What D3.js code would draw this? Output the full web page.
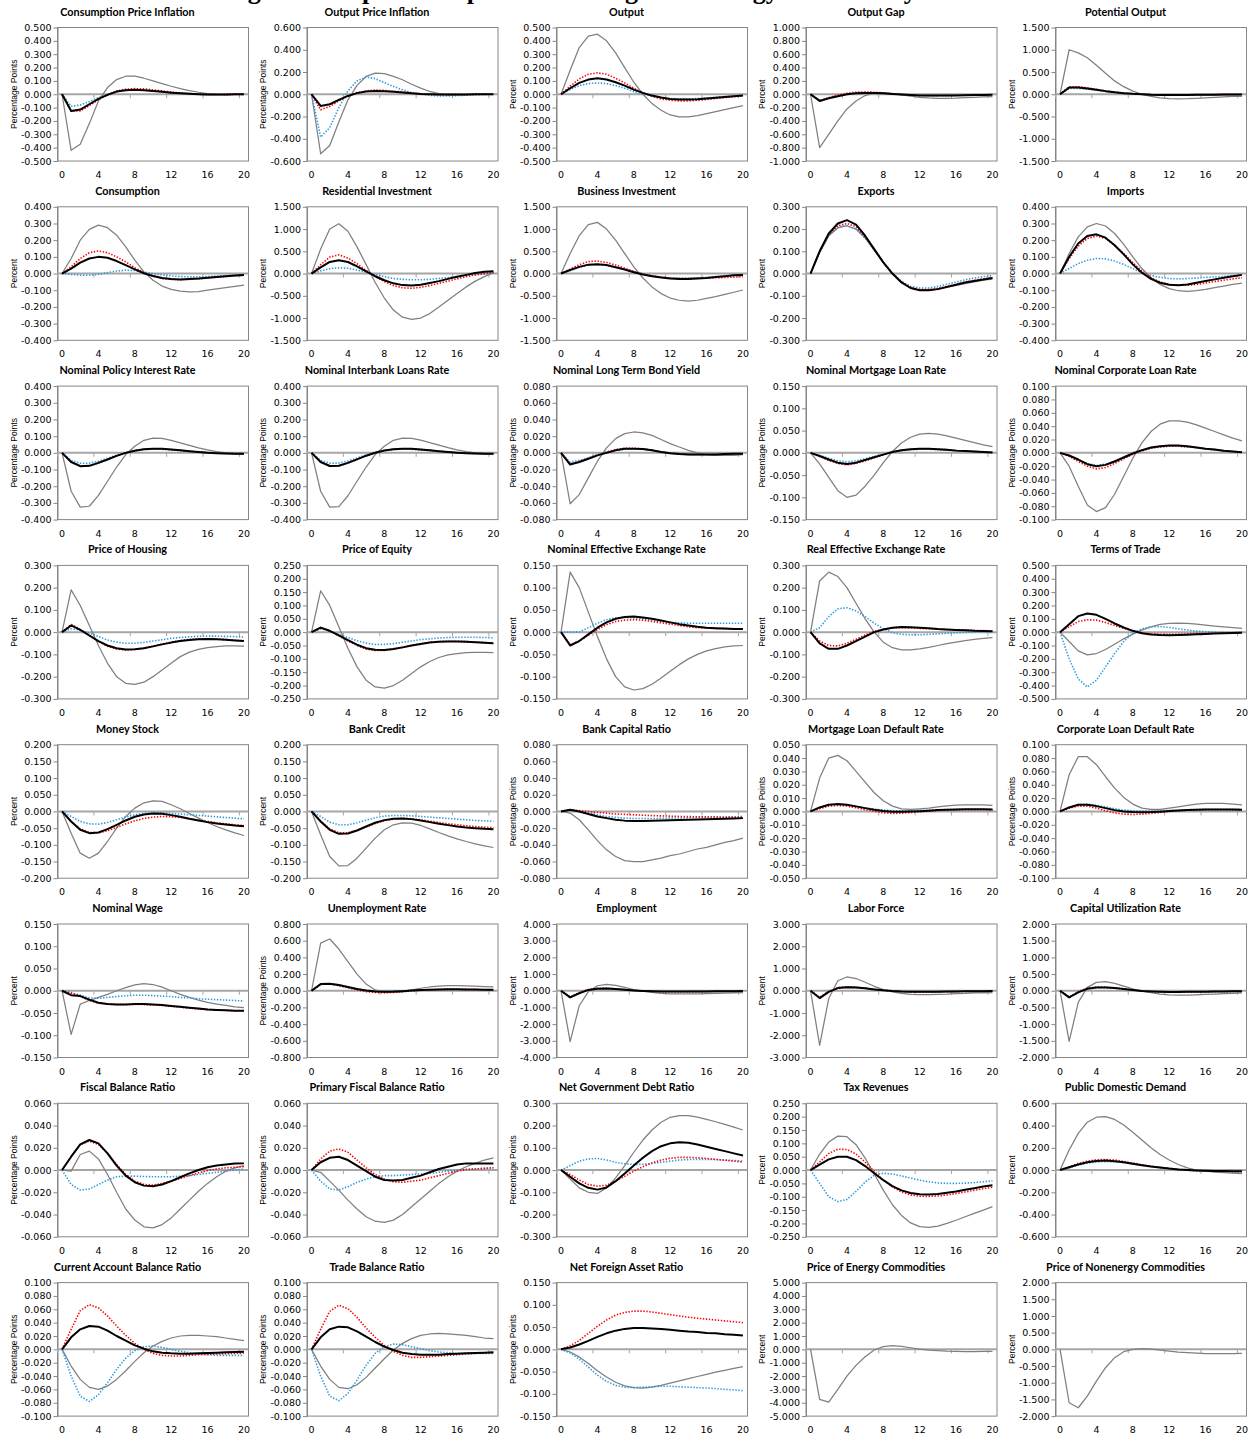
<!DOCTYPE html>
<html>
<head>
<meta charset="utf-8">
<script src="https://cdn.jsdelivr.net/npm/d3@7"></script>
<style>
  body { margin: 0; background: #fff; }
</style>
</head>
<body>
<div id="chart"></div>
<script>
// quarters after the shock
var periods = d3.range(0, 21);
var xTickValues = [0, 4, 8, 12, 16, 20];

var panelTitles = [
  'Consumption Price Inflation', 'Output Price Inflation', 'Output', 'Output Gap', 'Potential Output',
  'Consumption', 'Residential Investment', 'Business Investment', 'Exports', 'Imports',
  'Nominal Policy Interest Rate', 'Nominal Interbank Loans Rate', 'Nominal Long Term Bond Yield', 'Nominal Mortgage Loan Rate', 'Nominal Corporate Loan Rate',
  'Price of Housing', 'Price of Equity', 'Nominal Effective Exchange Rate', 'Real Effective Exchange Rate', 'Terms of Trade',
  'Money Stock', 'Bank Credit', 'Bank Capital Ratio', 'Mortgage Loan Default Rate', 'Corporate Loan Default Rate',
  'Nominal Wage', 'Unemployment Rate', 'Employment', 'Labor Force', 'Capital Utilization Rate',
  'Fiscal Balance Ratio', 'Primary Fiscal Balance Ratio', 'Net Government Debt Ratio', 'Tax Revenues', 'Public Domestic Demand',
  'Current Account Balance Ratio', 'Trade Balance Ratio', 'Net Foreign Asset Ratio', 'Price of Energy Commodities', 'Price of Nonenergy Commodities'
];

var panelUnits = [
  'Percentage Points', 'Percentage Points', 'Percent', 'Percent', 'Percent',
  'Percent', 'Percent', 'Percent', 'Percent', 'Percent',
  'Percentage Points', 'Percentage Points', 'Percentage Points', 'Percentage Points', 'Percentage Points',
  'Percent', 'Percent', 'Percent', 'Percent', 'Percent',
  'Percent', 'Percent', 'Percentage Points', 'Percentage Points', 'Percentage Points',
  'Percent', 'Percentage Points', 'Percent', 'Percent', 'Percent',
  'Percentage Points', 'Percentage Points', 'Percentage Points', 'Percent', 'Percent',
  'Percentage Points', 'Percentage Points', 'Percentage Points', 'Percent', 'Percent'
];

// symmetric y range and tick step of each panel
var axisMax = [
  0.5, 0.6, 0.5, 1.0, 1.5,
  0.4, 1.5, 1.5, 0.3, 0.4,
  0.4, 0.4, 0.08, 0.15, 0.1,
  0.3, 0.25, 0.15, 0.3, 0.5,
  0.2, 0.2, 0.08, 0.05, 0.1,
  0.15, 0.8, 4, 3, 2,
  0.06, 0.06, 0.3, 0.25, 0.6,
  0.1, 0.1, 0.15, 5, 2
];
var axisStep = [
  0.1, 0.2, 0.1, 0.2, 0.5,
  0.1, 0.5, 0.5, 0.1, 0.1,
  0.1, 0.1, 0.02, 0.05, 0.02,
  0.1, 0.05, 0.05, 0.1, 0.1,
  0.05, 0.05, 0.02, 0.01, 0.02,
  0.05, 0.2, 1, 1, 0.5,
  0.02, 0.02, 0.1, 0.05, 0.2,
  0.02, 0.02, 0.05, 1, 0.5
];

// black solid line
var blackSeries = [
  [0,-0.125,-0.115,-0.075,-0.035,-0.005,0.02,0.03,0.033,0.03,0.025,0.018,0.012,0.007,0.003,0,-0.002,-0.002,-0.001,0,0],
  [0,-0.105,-0.09,-0.05,-0.015,0.01,0.025,0.03,0.028,0.022,0.015,0.008,0.003,0,-0.002,-0.003,-0.003,-0.002,-0.001,0,0],
  [0,0.045,0.085,0.11,0.12,0.11,0.09,0.065,0.035,0.01,-0.01,-0.025,-0.035,-0.04,-0.04,-0.037,-0.032,-0.026,-0.02,-0.015,-0.01],
  [0,-0.1,-0.06,-0.03,0,0.015,0.02,0.02,0.015,0.005,-0.005,-0.012,-0.018,-0.02,-0.02,-0.02,-0.018,-0.015,-0.012,-0.01,-0.008],
  [0,0.15,0.15,0.13,0.1,0.07,0.045,0.025,0.01,0,-0.01,-0.015,-0.018,-0.018,-0.016,-0.014,-0.012,-0.01,-0.008,-0.006,-0.005],
  [0,0.03,0.065,0.09,0.1,0.095,0.075,0.05,0.025,0.002,-0.015,-0.027,-0.033,-0.035,-0.033,-0.03,-0.025,-0.02,-0.016,-0.012,-0.009],
  [0,0.14,0.26,0.3,0.26,0.16,0.05,-0.06,-0.15,-0.22,-0.26,-0.27,-0.25,-0.21,-0.17,-0.12,-0.07,-0.03,0.01,0.04,0.05],
  [0,0.08,0.15,0.2,0.21,0.19,0.14,0.09,0.03,-0.02,-0.06,-0.09,-0.11,-0.12,-0.12,-0.11,-0.1,-0.08,-0.06,-0.04,-0.03],
  [0,0.1,0.18,0.225,0.24,0.22,0.17,0.11,0.05,0,-0.04,-0.065,-0.075,-0.075,-0.07,-0.06,-0.05,-0.04,-0.033,-0.027,-0.02],
  [0,0.1,0.18,0.225,0.235,0.215,0.17,0.115,0.055,0.005,-0.032,-0.055,-0.067,-0.07,-0.065,-0.055,-0.045,-0.035,-0.025,-0.016,-0.008],
  [0,-0.055,-0.08,-0.078,-0.06,-0.04,-0.018,0,0.013,0.022,0.025,0.024,0.02,0.015,0.01,0.005,0.001,-0.002,-0.004,-0.005,-0.005],
  [0,-0.055,-0.079,-0.077,-0.06,-0.039,-0.017,0.001,0.014,0.022,0.025,0.024,0.02,0.015,0.01,0.005,0.001,-0.002,-0.004,-0.005,-0.005],
  [0,-0.014,-0.011,-0.007,-0.003,0,0.003,0.005,0.005,0.0045,0.003,0.001,-0.0005,-0.0015,-0.002,-0.002,-0.002,-0.002,-0.0015,-0.0012,-0.001],
  [0,-0.007,-0.015,-0.022,-0.025,-0.022,-0.016,-0.01,-0.004,0.002,0.006,0.008,0.009,0.009,0.008,0.007,0.005,0.004,0.003,0.002,0.001],
  [0,-0.004,-0.01,-0.017,-0.02,-0.018,-0.013,-0.007,-0.001,0.004,0.008,0.01,0.011,0.011,0.01,0.008,0.006,0.005,0.003,0.002,0.001],
  [0,0.03,0.01,-0.015,-0.04,-0.06,-0.072,-0.078,-0.077,-0.072,-0.064,-0.055,-0.047,-0.04,-0.035,-0.032,-0.031,-0.032,-0.034,-0.037,-0.04],
  [0,0.017,0.005,-0.012,-0.03,-0.047,-0.06,-0.066,-0.067,-0.063,-0.057,-0.05,-0.044,-0.039,-0.036,-0.035,-0.035,-0.036,-0.038,-0.04,-0.042],
  [0,-0.03,-0.02,-0.005,0.01,0.022,0.03,0.034,0.035,0.033,0.03,0.026,0.022,0.018,0.015,0.012,0.01,0.009,0.008,0.007,0.007],
  [0,-0.05,-0.075,-0.075,-0.06,-0.04,-0.02,0,0.012,0.02,0.023,0.022,0.02,0.017,0.014,0.012,0.01,0.008,0.006,0.005,0.004],
  [0,0.06,0.12,0.14,0.13,0.1,0.065,0.035,0.01,-0.008,-0.018,-0.022,-0.023,-0.021,-0.019,-0.016,-0.013,-0.01,-0.008,-0.006,-0.004],
  [0,-0.03,-0.055,-0.065,-0.063,-0.053,-0.04,-0.027,-0.016,-0.009,-0.006,-0.007,-0.011,-0.016,-0.022,-0.027,-0.032,-0.036,-0.039,-0.042,-0.044],
  [0,-0.03,-0.055,-0.067,-0.066,-0.057,-0.045,-0.034,-0.026,-0.022,-0.021,-0.023,-0.027,-0.032,-0.037,-0.041,-0.045,-0.048,-0.05,-0.052,-0.053],
  [0,0.002,0,-0.003,-0.006,-0.008,-0.01,-0.011,-0.0115,-0.0115,-0.011,-0.0108,-0.0105,-0.0102,-0.01,-0.0097,-0.0094,-0.009,-0.0087,-0.0084,-0.008],
  [0,0.003,0.005,0.0055,0.005,0.0038,0.0025,0.0012,0.0003,-0.0002,-0.0003,-0.0001,0.0002,0.0006,0.001,0.0013,0.0015,0.0016,0.0016,0.0016,0.0015],
  [0,0.006,0.01,0.01,0.008,0.005,0.002,0,-0.001,-0.0012,-0.001,-0.0003,0.0005,0.0013,0.002,0.0025,0.003,0.003,0.003,0.0028,0.0026],
  [0,-0.01,-0.012,-0.02,-0.027,-0.03,-0.031,-0.031,-0.03,-0.03,-0.031,-0.032,-0.034,-0.036,-0.038,-0.04,-0.042,-0.043,-0.044,-0.045,-0.045],
  [0,0.08,0.085,0.07,0.045,0.02,0.003,-0.008,-0.012,-0.01,-0.005,0.002,0.008,0.012,0.015,0.017,0.017,0.016,0.015,0.013,0.012],
  [0,-0.4,-0.15,0.05,0.12,0.13,0.1,0.06,0.02,-0.01,-0.03,-0.045,-0.05,-0.05,-0.05,-0.045,-0.04,-0.035,-0.03,-0.025,-0.02],
  [0,-0.33,-0.05,0.12,0.16,0.15,0.11,0.06,0.02,-0.01,-0.03,-0.04,-0.045,-0.045,-0.04,-0.035,-0.03,-0.025,-0.02,-0.018,-0.015],
  [0,-0.2,-0.05,0.06,0.1,0.1,0.08,0.05,0.02,-0.005,-0.02,-0.03,-0.035,-0.035,-0.033,-0.03,-0.027,-0.023,-0.02,-0.017,-0.014],
  [0,0.012,0.023,0.027,0.024,0.015,0.004,-0.005,-0.011,-0.014,-0.0145,-0.013,-0.01,-0.0065,-0.003,0,0.0025,0.004,0.005,0.0058,0.006],
  [0,0.007,0.011,0.012,0.009,0.004,-0.001,-0.006,-0.009,-0.0095,-0.009,-0.007,-0.005,-0.002,0.001,0.003,0.005,0.006,0.006,0.006,0.006],
  [0,-0.03,-0.06,-0.08,-0.088,-0.078,-0.05,-0.015,0.02,0.055,0.085,0.107,0.12,0.125,0.123,0.115,0.105,0.095,0.085,0.075,0.065],
  [0,0.02,0.04,0.05,0.05,0.037,0.015,-0.012,-0.038,-0.06,-0.076,-0.086,-0.091,-0.092,-0.09,-0.085,-0.08,-0.074,-0.068,-0.062,-0.057],
  [0,0.025,0.05,0.07,0.082,0.085,0.08,0.07,0.057,0.044,0.032,0.022,0.013,0.006,0.001,-0.003,-0.006,-0.008,-0.009,-0.01,-0.01],
  [0,0.018,0.03,0.035,0.034,0.028,0.02,0.013,0.006,0.001,-0.003,-0.005,-0.006,-0.0065,-0.0065,-0.006,-0.0055,-0.005,-0.0045,-0.004,-0.0035],
  [0,0.018,0.03,0.034,0.033,0.027,0.019,0.011,0.004,-0.001,-0.005,-0.007,-0.008,-0.008,-0.008,-0.007,-0.0065,-0.006,-0.0055,-0.005,-0.0045],
  [0,0.004,0.011,0.019,0.028,0.036,0.042,0.046,0.048,0.048,0.047,0.046,0.044,0.042,0.04,0.039,0.037,0.036,0.034,0.033,0.031],
  null,
  null
];

// red dotted line
var redSeries = [
  [0,-0.125,-0.125,-0.085,-0.04,-0.005,0.025,0.038,0.042,0.04,0.033,0.025,0.017,0.01,0.005,0,-0.003,-0.004,-0.003,-0.002,-0.001],
  [0,-0.14,-0.11,-0.06,-0.015,0.015,0.03,0.038,0.035,0.028,0.02,0.012,0.005,0,-0.002,-0.003,-0.003,-0.002,-0.001,0,0],
  [0,0.06,0.115,0.15,0.16,0.15,0.12,0.085,0.045,0.01,-0.015,-0.035,-0.045,-0.05,-0.05,-0.045,-0.04,-0.032,-0.025,-0.018,-0.012],
  [0,-0.1,-0.05,-0.01,0.015,0.03,0.035,0.03,0.022,0.01,-0.002,-0.012,-0.018,-0.02,-0.02,-0.018,-0.016,-0.013,-0.01,-0.008,-0.006],
  [0,0.17,0.17,0.145,0.11,0.077,0.05,0.028,0.012,0,-0.01,-0.016,-0.019,-0.019,-0.017,-0.015,-0.013,-0.011,-0.009,-0.007,-0.005],
  [0,0.04,0.09,0.125,0.135,0.125,0.1,0.07,0.035,0.005,-0.015,-0.03,-0.035,-0.037,-0.035,-0.032,-0.027,-0.022,-0.018,-0.014,-0.01],
  [0,0.2,0.37,0.42,0.35,0.22,0.07,-0.07,-0.18,-0.27,-0.32,-0.33,-0.31,-0.27,-0.22,-0.17,-0.12,-0.07,-0.03,0,0.03],
  [0,0.1,0.2,0.27,0.28,0.25,0.19,0.12,0.05,-0.01,-0.05,-0.08,-0.1,-0.11,-0.11,-0.105,-0.1,-0.095,-0.09,-0.08,-0.07],
  [0,0.1,0.175,0.215,0.225,0.21,0.165,0.11,0.05,0,-0.038,-0.062,-0.072,-0.072,-0.067,-0.058,-0.048,-0.038,-0.03,-0.024,-0.018],
  [0,0.09,0.165,0.21,0.225,0.21,0.17,0.12,0.065,0.015,-0.025,-0.05,-0.065,-0.07,-0.07,-0.065,-0.057,-0.048,-0.04,-0.032,-0.025],
  [0,-0.055,-0.078,-0.078,-0.061,-0.04,-0.018,0.001,0.014,0.022,0.025,0.024,0.02,0.015,0.01,0.005,0.001,-0.002,-0.004,-0.005,-0.005],
  [0,-0.055,-0.078,-0.078,-0.061,-0.04,-0.018,0.001,0.014,0.022,0.025,0.024,0.02,0.015,0.01,0.005,0.001,-0.002,-0.004,-0.005,-0.005],
  [0,-0.013,-0.011,-0.007,-0.003,0.001,0.004,0.0055,0.0055,0.0048,0.0032,0.0012,-0.0004,-0.0015,-0.002,-0.0022,-0.0022,-0.002,-0.0016,-0.0012,-0.001],
  [0,-0.008,-0.017,-0.024,-0.027,-0.024,-0.018,-0.011,-0.004,0.002,0.006,0.008,0.009,0.009,0.008,0.007,0.005,0.004,0.003,0.002,0.001],
  [0,-0.005,-0.013,-0.02,-0.024,-0.022,-0.016,-0.009,-0.002,0.003,0.007,0.009,0.01,0.01,0.009,0.008,0.006,0.005,0.003,0.002,0.001],
  [0,0.035,0.012,-0.015,-0.042,-0.063,-0.076,-0.08,-0.078,-0.072,-0.063,-0.053,-0.045,-0.038,-0.033,-0.03,-0.03,-0.031,-0.033,-0.036,-0.039],
  [0,0.017,0.004,-0.014,-0.033,-0.05,-0.063,-0.069,-0.069,-0.064,-0.057,-0.05,-0.043,-0.038,-0.035,-0.034,-0.034,-0.035,-0.037,-0.039,-0.041],
  [0,-0.028,-0.02,-0.007,0.006,0.017,0.024,0.027,0.028,0.027,0.024,0.021,0.018,0.015,0.012,0.01,0.009,0.008,0.007,0.007,0.007],
  [0,-0.04,-0.06,-0.062,-0.05,-0.032,-0.013,0.003,0.013,0.019,0.02,0.019,0.017,0.015,0.013,0.011,0.01,0.009,0.008,0.007,0.006],
  [0,0.04,0.08,0.093,0.09,0.072,0.05,0.028,0.01,-0.005,-0.013,-0.016,-0.016,-0.015,-0.013,-0.011,-0.009,-0.007,-0.005,-0.004,-0.003],
  [0,-0.03,-0.052,-0.063,-0.064,-0.058,-0.048,-0.037,-0.028,-0.021,-0.017,-0.015,-0.016,-0.018,-0.022,-0.026,-0.03,-0.034,-0.037,-0.04,-0.042],
  [0,-0.028,-0.052,-0.064,-0.064,-0.056,-0.046,-0.036,-0.028,-0.023,-0.021,-0.022,-0.025,-0.029,-0.033,-0.037,-0.04,-0.043,-0.045,-0.047,-0.049],
  [0,0.002,0.001,0,-0.001,-0.002,-0.003,-0.0035,-0.004,-0.0045,-0.005,-0.0053,-0.0056,-0.006,-0.0062,-0.0064,-0.0066,-0.0068,-0.007,-0.007,-0.007],
  [0,0.002,0.004,0.0045,0.004,0.0028,0.0013,0,-0.001,-0.0015,-0.0013,-0.0008,-0.0002,0.0003,0.0007,0.001,0.0012,0.0013,0.0013,0.0013,0.0012],
  [0,0.005,0.008,0.008,0.005,0.001,-0.002,-0.004,-0.0045,-0.004,-0.003,-0.0015,0,0.001,0.0018,0.0023,0.0025,0.0025,0.0025,0.0024,0.0022],
  [0,-0.005,-0.012,-0.022,-0.028,-0.03,-0.031,-0.031,-0.031,-0.031,-0.032,-0.033,-0.035,-0.037,-0.039,-0.041,-0.042,-0.043,-0.044,-0.045,-0.045],
  [0,0.075,0.08,0.06,0.035,0.01,-0.01,-0.02,-0.025,-0.02,-0.012,-0.003,0.005,0.011,0.015,0.017,0.017,0.016,0.014,0.012,0.01],
  [0,-0.38,-0.12,0.07,0.15,0.15,0.12,0.07,0.02,-0.015,-0.04,-0.055,-0.06,-0.06,-0.055,-0.05,-0.045,-0.04,-0.035,-0.03,-0.025],
  [0,-0.3,-0.03,0.14,0.18,0.16,0.12,0.07,0.02,-0.015,-0.035,-0.048,-0.052,-0.05,-0.047,-0.042,-0.036,-0.03,-0.025,-0.02,-0.017],
  [0,-0.19,-0.03,0.08,0.11,0.11,0.09,0.055,0.02,-0.008,-0.025,-0.035,-0.04,-0.04,-0.037,-0.033,-0.029,-0.025,-0.021,-0.018,-0.015],
  [0,0.012,0.023,0.026,0.023,0.015,0.005,-0.004,-0.01,-0.013,-0.0135,-0.012,-0.01,-0.0075,-0.005,-0.0025,-0.0005,0.001,0.002,0.0025,0.003],
  [0,0.01,0.017,0.019,0.016,0.009,0.002,-0.004,-0.008,-0.0105,-0.011,-0.01,-0.009,-0.007,-0.005,-0.003,-0.001,0.0005,0.001,0.0015,0.002],
  [0,-0.02,-0.045,-0.065,-0.072,-0.068,-0.05,-0.028,-0.005,0.015,0.032,0.045,0.053,0.057,0.057,0.055,0.052,0.048,0.044,0.04,0.036],
  [0,0.03,0.062,0.078,0.077,0.06,0.03,-0.005,-0.037,-0.063,-0.082,-0.093,-0.098,-0.099,-0.097,-0.093,-0.088,-0.082,-0.076,-0.07,-0.064],
  [0,0.03,0.06,0.08,0.092,0.095,0.09,0.078,0.063,0.048,0.034,0.022,0.012,0.004,-0.002,-0.007,-0.01,-0.012,-0.013,-0.014,-0.014],
  [0,0.03,0.058,0.067,0.062,0.05,0.035,0.021,0.009,0,-0.006,-0.009,-0.01,-0.01,-0.009,-0.008,-0.0075,-0.007,-0.0065,-0.006,-0.0055],
  [0,0.03,0.057,0.066,0.061,0.048,0.032,0.018,0.006,-0.003,-0.009,-0.012,-0.012,-0.011,-0.01,-0.009,-0.008,-0.007,-0.006,-0.0055,-0.005],
  [0,0.008,0.02,0.036,0.052,0.066,0.077,0.083,0.086,0.086,0.084,0.081,0.078,0.075,0.072,0.07,0.068,0.066,0.064,0.062,0.06],
  null,
  null
];

// blue dotted line
var blueSeries = [
  [0,-0.09,-0.08,-0.055,-0.025,0,0.02,0.03,0.032,0.03,0.025,0.018,0.012,0.007,0.003,0,-0.002,-0.002,-0.001,0,0],
  [0,-0.385,-0.3,-0.12,0.03,0.12,0.155,0.14,0.105,0.07,0.04,0.015,0,-0.01,-0.015,-0.015,-0.012,-0.008,-0.005,-0.003,0],
  [0,0.035,0.065,0.08,0.085,0.08,0.065,0.045,0.02,0,-0.015,-0.025,-0.032,-0.035,-0.035,-0.032,-0.028,-0.022,-0.017,-0.012,-0.008],
  [0,-0.09,-0.06,-0.03,-0.005,0.01,0.015,0.015,0.01,0.005,-0.005,-0.01,-0.015,-0.017,-0.018,-0.017,-0.015,-0.013,-0.011,-0.009,-0.007],
  [0,0.13,0.13,0.115,0.09,0.063,0.04,0.022,0.008,-0.002,-0.01,-0.014,-0.016,-0.016,-0.015,-0.013,-0.011,-0.009,-0.007,-0.006,-0.005],
  [0,-0.005,-0.01,-0.01,-0.005,0.005,0.015,0.02,0.018,0.01,0,-0.008,-0.014,-0.018,-0.02,-0.02,-0.018,-0.015,-0.012,-0.01,-0.008],
  [0,0.06,0.11,0.13,0.12,0.08,0.03,-0.02,-0.07,-0.11,-0.13,-0.14,-0.14,-0.13,-0.11,-0.09,-0.07,-0.05,-0.03,-0.01,0.01],
  [0,0.07,0.14,0.19,0.2,0.18,0.14,0.09,0.04,-0.01,-0.05,-0.08,-0.1,-0.1,-0.1,-0.095,-0.085,-0.07,-0.055,-0.04,-0.03],
  [0,0.095,0.17,0.21,0.215,0.2,0.16,0.105,0.05,0.002,-0.035,-0.057,-0.065,-0.065,-0.058,-0.048,-0.038,-0.028,-0.02,-0.014,-0.01],
  [0,0.03,0.06,0.08,0.09,0.088,0.075,0.055,0.03,0.005,-0.012,-0.023,-0.03,-0.032,-0.03,-0.027,-0.023,-0.02,-0.017,-0.013,-0.01],
  [0,-0.045,-0.062,-0.062,-0.05,-0.032,-0.013,0.003,0.014,0.02,0.022,0.021,0.017,0.013,0.009,0.005,0.001,-0.002,-0.003,-0.004,-0.004],
  [0,-0.045,-0.062,-0.061,-0.049,-0.031,-0.012,0.003,0.014,0.02,0.022,0.021,0.017,0.013,0.009,0.005,0.001,-0.002,-0.003,-0.004,-0.004],
  [0,-0.011,-0.009,-0.006,-0.002,0.001,0.003,0.0045,0.0048,0.0043,0.003,0.0012,-0.0003,-0.0013,-0.0018,-0.002,-0.002,-0.0018,-0.0015,-0.0012,-0.001],
  [0,-0.006,-0.012,-0.018,-0.02,-0.018,-0.013,-0.008,-0.003,0.002,0.005,0.007,0.008,0.008,0.007,0.006,0.005,0.004,0.003,0.002,0.001],
  [0,-0.004,-0.01,-0.016,-0.019,-0.017,-0.012,-0.006,0,0.004,0.007,0.009,0.01,0.01,0.009,0.008,0.006,0.004,0.003,0.002,0.001],
  [0,0.015,0.01,-0.005,-0.02,-0.035,-0.045,-0.05,-0.05,-0.046,-0.04,-0.034,-0.028,-0.024,-0.021,-0.019,-0.018,-0.018,-0.019,-0.02,-0.022],
  [0,0.012,0.005,-0.008,-0.02,-0.032,-0.041,-0.046,-0.046,-0.043,-0.038,-0.033,-0.028,-0.025,-0.022,-0.02,-0.019,-0.019,-0.019,-0.02,-0.021],
  [0,0,0,0.01,0.02,0.028,0.032,0.033,0.032,0.03,0.027,0.024,0.022,0.021,0.02,0.02,0.02,0.02,0.02,0.02,0.02],
  [0,0.02,0.07,0.105,0.11,0.095,0.07,0.04,0.015,-0.002,-0.01,-0.012,-0.012,-0.01,-0.008,-0.005,-0.003,-0.001,0,0.001,0.001],
  [0,-0.2,-0.35,-0.41,-0.36,-0.26,-0.16,-0.07,-0.01,0.025,0.04,0.042,0.035,0.025,0.016,0.008,0.003,0,-0.002,-0.002,-0.002],
  [0,-0.015,-0.03,-0.037,-0.038,-0.033,-0.025,-0.017,-0.01,-0.006,-0.004,-0.004,-0.006,-0.008,-0.01,-0.012,-0.014,-0.016,-0.018,-0.02,-0.022],
  [0,-0.015,-0.032,-0.04,-0.04,-0.034,-0.026,-0.019,-0.014,-0.012,-0.012,-0.013,-0.015,-0.017,-0.019,-0.021,-0.023,-0.025,-0.027,-0.028,-0.03],
  [0,0.001,0,-0.002,-0.004,-0.006,-0.007,-0.008,-0.0085,-0.0085,-0.0085,-0.0083,-0.008,-0.0078,-0.0075,-0.0072,-0.007,-0.0068,-0.0066,-0.0064,-0.0062],
  [0,0.003,0.0048,0.0052,0.0048,0.0038,0.0027,0.0017,0.001,0.0006,0.0005,0.0006,0.0008,0.001,0.0012,0.0014,0.0015,0.0016,0.0016,0.0016,0.0015],
  [0,0.006,0.01,0.011,0.009,0.007,0.004,0.002,0.001,0.0005,0.0005,0.001,0.0015,0.002,0.0025,0.003,0.0032,0.0033,0.0033,0.0032,0.003],
  [0,-0.005,-0.01,-0.016,-0.017,-0.015,-0.013,-0.011,-0.01,-0.01,-0.011,-0.012,-0.013,-0.015,-0.016,-0.018,-0.019,-0.02,-0.021,-0.022,-0.023],
  [0,0.08,0.085,0.07,0.045,0.022,0.006,-0.004,-0.008,-0.006,-0.002,0.003,0.008,0.011,0.013,0.014,0.014,0.013,0.012,0.011,0.01],
  [0,-0.4,-0.14,0.05,0.12,0.13,0.1,0.06,0.02,-0.01,-0.03,-0.045,-0.05,-0.05,-0.048,-0.044,-0.04,-0.035,-0.03,-0.025,-0.02],
  [0,-0.33,-0.05,0.12,0.16,0.15,0.11,0.06,0.02,-0.01,-0.03,-0.04,-0.045,-0.045,-0.04,-0.035,-0.03,-0.025,-0.02,-0.018,-0.015],
  [0,-0.2,-0.05,0.06,0.1,0.1,0.08,0.05,0.02,-0.005,-0.02,-0.03,-0.035,-0.035,-0.033,-0.03,-0.027,-0.023,-0.02,-0.017,-0.014],
  [0,-0.013,-0.018,-0.017,-0.013,-0.009,-0.006,-0.0055,-0.0055,-0.0058,-0.006,-0.006,-0.006,-0.0055,-0.005,-0.004,-0.003,-0.002,-0.001,0,0.001],
  [0,-0.01,-0.017,-0.018,-0.015,-0.011,-0.008,-0.006,-0.005,-0.005,-0.0045,-0.004,-0.0035,-0.003,-0.002,-0.001,0,0.0005,0.001,0.0015,0.002],
  [0,0.02,0.04,0.05,0.052,0.045,0.035,0.028,0.025,0.026,0.03,0.035,0.04,0.045,0.047,0.048,0.048,0.047,0.045,0.043,0.04],
  [0,-0.05,-0.1,-0.118,-0.11,-0.08,-0.045,-0.02,-0.012,-0.015,-0.022,-0.03,-0.038,-0.044,-0.048,-0.05,-0.05,-0.049,-0.047,-0.044,-0.04],
  [0,0.02,0.045,0.062,0.072,0.076,0.074,0.066,0.055,0.044,0.033,0.023,0.015,0.008,0.003,-0.001,-0.004,-0.006,-0.007,-0.008,-0.008],
  [0,-0.04,-0.07,-0.078,-0.068,-0.05,-0.03,-0.013,-0.002,0.004,0.005,0.003,0,-0.003,-0.005,-0.007,-0.008,-0.009,-0.009,-0.009,-0.009],
  [0,-0.04,-0.07,-0.077,-0.066,-0.046,-0.024,-0.006,0.004,0.008,0.007,0.004,0.001,-0.002,-0.004,-0.005,-0.006,-0.006,-0.006,-0.006,-0.006],
  [0,-0.008,-0.022,-0.04,-0.058,-0.072,-0.081,-0.085,-0.086,-0.085,-0.084,-0.083,-0.083,-0.084,-0.085,-0.086,-0.087,-0.088,-0.09,-0.091,-0.093],
  null,
  null
];

// gray solid line
var graySeries = [
  [0,-0.42,-0.375,-0.22,-0.05,0.05,0.11,0.135,0.135,0.12,0.1,0.08,0.06,0.042,0.027,0.015,0.005,0,-0.002,-0.001,0],
  [0,-0.535,-0.46,-0.25,-0.05,0.08,0.16,0.19,0.185,0.16,0.13,0.09,0.055,0.025,0.005,-0.005,-0.005,-0.003,-0.001,0,0],
  [0,0.18,0.35,0.435,0.45,0.4,0.31,0.2,0.09,0,-0.07,-0.12,-0.155,-0.17,-0.17,-0.16,-0.145,-0.13,-0.115,-0.1,-0.085],
  [0,-0.8,-0.6,-0.4,-0.22,-0.1,-0.02,0.02,0.02,0.01,-0.01,-0.03,-0.045,-0.055,-0.06,-0.06,-0.058,-0.05,-0.045,-0.04,-0.035],
  [0,1.0,0.93,0.82,0.65,0.47,0.3,0.17,0.07,0,-0.05,-0.08,-0.1,-0.105,-0.1,-0.09,-0.08,-0.07,-0.06,-0.05,-0.045],
  [0,0.09,0.2,0.265,0.29,0.275,0.23,0.16,0.08,0.01,-0.04,-0.075,-0.095,-0.105,-0.11,-0.108,-0.1,-0.092,-0.085,-0.077,-0.07],
  [0,0.55,1.0,1.12,0.95,0.6,0.2,-0.2,-0.55,-0.82,-0.98,-1.03,-1.0,-0.9,-0.75,-0.6,-0.45,-0.3,-0.17,-0.07,0.02],
  [0,0.45,0.85,1.1,1.15,1.0,0.75,0.45,0.15,-0.1,-0.3,-0.45,-0.55,-0.6,-0.62,-0.6,-0.56,-0.52,-0.47,-0.42,-0.37],
  [0,0.095,0.17,0.205,0.215,0.2,0.16,0.105,0.05,0,-0.04,-0.065,-0.075,-0.075,-0.07,-0.062,-0.053,-0.045,-0.037,-0.03,-0.025],
  [0,0.12,0.22,0.28,0.3,0.285,0.24,0.175,0.1,0.03,-0.025,-0.065,-0.09,-0.103,-0.107,-0.103,-0.095,-0.085,-0.075,-0.065,-0.057],
  [0,-0.23,-0.325,-0.32,-0.255,-0.17,-0.085,-0.01,0.04,0.075,0.088,0.087,0.075,0.06,0.045,0.03,0.018,0.008,0,-0.005,-0.008],
  [0,-0.23,-0.325,-0.322,-0.257,-0.17,-0.085,-0.01,0.04,0.075,0.088,0.087,0.076,0.061,0.046,0.031,0.018,0.008,0,-0.005,-0.008],
  [0,-0.061,-0.05,-0.03,-0.01,0.006,0.017,0.023,0.025,0.024,0.021,0.016,0.011,0.007,0.003,0,-0.002,-0.003,-0.003,-0.003,-0.002],
  [0,-0.025,-0.055,-0.085,-0.1,-0.095,-0.075,-0.05,-0.022,0.003,0.022,0.035,0.042,0.044,0.042,0.038,0.033,0.028,0.023,0.018,0.014],
  [0,-0.02,-0.05,-0.078,-0.088,-0.082,-0.062,-0.035,-0.008,0.015,0.032,0.043,0.048,0.048,0.046,0.042,0.037,0.032,0.027,0.022,0.018],
  [0,0.19,0.12,0.03,-0.06,-0.14,-0.2,-0.23,-0.235,-0.225,-0.2,-0.17,-0.14,-0.11,-0.09,-0.077,-0.07,-0.065,-0.062,-0.062,-0.063],
  [0,0.155,0.1,0.02,-0.06,-0.13,-0.18,-0.205,-0.21,-0.2,-0.18,-0.155,-0.13,-0.11,-0.095,-0.085,-0.08,-0.077,-0.076,-0.076,-0.077],
  [0,0.135,0.1,0.045,-0.01,-0.06,-0.1,-0.123,-0.13,-0.127,-0.117,-0.103,-0.088,-0.073,-0.06,-0.05,-0.042,-0.037,-0.033,-0.031,-0.03],
  [0,0.23,0.27,0.25,0.2,0.13,0.06,0,-0.045,-0.07,-0.08,-0.08,-0.075,-0.068,-0.06,-0.052,-0.045,-0.038,-0.033,-0.028,-0.025],
  [0,-0.07,-0.14,-0.17,-0.16,-0.13,-0.09,-0.05,-0.015,0.015,0.04,0.058,0.066,0.068,0.065,0.06,0.053,0.046,0.04,0.034,0.028],
  [0,-0.065,-0.125,-0.14,-0.125,-0.09,-0.05,-0.015,0.01,0.026,0.032,0.03,0.02,0.008,-0.006,-0.02,-0.033,-0.045,-0.055,-0.064,-0.072],
  [0,-0.07,-0.135,-0.163,-0.162,-0.14,-0.11,-0.08,-0.055,-0.04,-0.034,-0.035,-0.042,-0.052,-0.063,-0.073,-0.082,-0.09,-0.097,-0.103,-0.108],
  [0,-0.002,-0.01,-0.022,-0.035,-0.046,-0.054,-0.059,-0.06,-0.06,-0.058,-0.056,-0.053,-0.051,-0.048,-0.045,-0.043,-0.04,-0.037,-0.035,-0.032],
  [0,0.025,0.04,0.042,0.038,0.03,0.022,0.014,0.008,0.004,0.002,0.0015,0.002,0.0025,0.0035,0.0042,0.0048,0.005,0.005,0.005,0.0045],
  [0,0.055,0.082,0.082,0.07,0.052,0.035,0.021,0.011,0.005,0.003,0.003,0.005,0.007,0.009,0.011,0.012,0.012,0.012,0.011,0.01],
  [0,-0.098,-0.03,-0.022,-0.015,-0.008,0,0.007,0.013,0.016,0.014,0.008,0,-0.008,-0.015,-0.021,-0.026,-0.03,-0.033,-0.036,-0.038],
  [0,0.57,0.62,0.5,0.35,0.2,0.08,0.01,-0.02,-0.02,-0.01,0.01,0.03,0.045,0.055,0.06,0.06,0.058,0.055,0.05,0.045],
  [0,-3.05,-0.9,-0.05,0.3,0.38,0.32,0.2,0.07,-0.03,-0.1,-0.15,-0.18,-0.19,-0.19,-0.18,-0.17,-0.15,-0.14,-0.12,-0.11],
  [0,-2.45,-0.35,0.45,0.62,0.55,0.38,0.2,0.05,-0.05,-0.12,-0.16,-0.17,-0.17,-0.16,-0.15,-0.13,-0.12,-0.1,-0.09,-0.08],
  [0,-1.52,-0.35,0.1,0.25,0.27,0.22,0.14,0.06,-0.01,-0.06,-0.1,-0.12,-0.13,-0.13,-0.12,-0.11,-0.1,-0.085,-0.075,-0.065],
  [0,-0.001,0.014,0.017,0.01,-0.004,-0.02,-0.035,-0.045,-0.051,-0.052,-0.049,-0.043,-0.035,-0.027,-0.019,-0.012,-0.006,-0.001,0.002,0.004],
  [0,-0.002,-0.01,-0.018,-0.027,-0.035,-0.042,-0.046,-0.047,-0.045,-0.04,-0.033,-0.026,-0.019,-0.012,-0.006,-0.001,0.003,0.006,0.009,0.011],
  [0,-0.04,-0.08,-0.1,-0.105,-0.08,-0.035,0.02,0.08,0.135,0.18,0.215,0.237,0.245,0.245,0.238,0.228,0.217,0.205,0.193,0.18],
  [0,0.06,0.105,0.127,0.125,0.095,0.045,-0.015,-0.075,-0.13,-0.17,-0.198,-0.212,-0.215,-0.21,-0.2,-0.188,-0.175,-0.162,-0.15,-0.137],
  [0,0.18,0.33,0.43,0.475,0.48,0.455,0.405,0.34,0.27,0.2,0.14,0.09,0.05,0.02,0,-0.01,-0.018,-0.023,-0.028,-0.032],
  [0,-0.025,-0.045,-0.057,-0.06,-0.055,-0.045,-0.032,-0.018,-0.005,0.005,0.012,0.017,0.02,0.021,0.021,0.02,0.019,0.017,0.015,0.013],
  [0,-0.025,-0.045,-0.057,-0.059,-0.053,-0.042,-0.028,-0.014,-0.001,0.009,0.016,0.021,0.023,0.024,0.023,0.022,0.021,0.019,0.017,0.016],
  [0,-0.006,-0.017,-0.032,-0.048,-0.062,-0.074,-0.082,-0.086,-0.087,-0.085,-0.081,-0.076,-0.071,-0.066,-0.061,-0.056,-0.051,-0.047,-0.043,-0.039],
  [0,-3.75,-3.95,-3.0,-2.0,-1.2,-0.55,-0.05,0.2,0.28,0.22,0.12,0.02,-0.05,-0.1,-0.14,-0.16,-0.17,-0.17,-0.16,-0.15],
  [0,-1.6,-1.75,-1.4,-0.95,-0.55,-0.25,-0.07,0,0.02,0.01,-0.02,-0.05,-0.08,-0.1,-0.115,-0.125,-0.13,-0.13,-0.125,-0.12]
];

var attrs = {
  svgWidth: 1253,
  svgHeight: 1435,
  cols: 5,
  plotLeft: 57.5,
  plotTop: 27.5,
  colStep: 249.5,
  rowStep: 179.3,
  plotWidth: 191,
  plotHeight: 133.5,
  axisColor: '#868686',
  zeroColor: '#a6a6a6',
  tickFont: '"DejaVu Sans", sans-serif',
  titleFont: 'Lato, "Open Sans", sans-serif',
  unitFont: '"Liberation Sans", Arial, sans-serif'
};

// series drawn bottom to top
var seriesStyles = [
  { data: graySeries, color: '#7f7f7f', width: 1.25, dash: null },
  { data: blueSeries, color: '#2b9be0', width: 1.6, dash: '1.4,1.6' },
  { data: redSeries, color: '#ff0000', width: 1.6, dash: '1.4,1.6' },
  { data: blackSeries, color: '#000000', width: 2, dash: null }
];

var fmt = d3.formatLocale({ decimal: '.', thousands: ',', grouping: [3], currency: ['', ''], minus: '-' }).format('.3f');

var svg = d3.select('#chart').append('svg')
  .attr('width', attrs.svgWidth)
  .attr('height', attrs.svgHeight)
  .style('display', 'block');

// figure heading, cut off by the top edge as in the source page
svg.append('text')
  .attr('x', 640)
  .attr('y', -1)
  .attr('text-anchor', 'middle')
  .attr('font-family', '"Liberation Serif", "Times New Roman", serif')
  .attr('font-weight', 'bold')
  .attr('font-size', 26)
  .attr('fill', '#000')
  .text('Figure 3. Impulse Responses to a Negative Energy Commodity Price Shock');

var x = d3.scalePoint()
  .domain(periods)
  .range([0, attrs.plotWidth])
  .padding(0.5);

panelTitles.forEach(function (title, i) {
  var row = Math.floor(i / attrs.cols);
  var col = i % attrs.cols;
  var max = axisMax[i];
  var step = axisStep[i];
  var n = Math.round(max / step);
  var ticks = d3.range(-n, n + 1).map(function (k) { return +(k * step).toFixed(6); });

  var y = d3.scaleLinear()
    .domain([-max, max])
    .range([attrs.plotHeight, 0]);

  var g = svg.append('g')
    .attr('transform', 'translate(' + (attrs.plotLeft + col * attrs.colStep) + ',' + (attrs.plotTop + row * attrs.rowStep) + ')');

  // panel title
  g.append('text')
    .attr('x', 70)
    .attr('y', -12)
    .attr('text-anchor', 'middle')
    .attr('font-family', attrs.titleFont)
    .attr('font-weight', 'bold')
    .attr('font-size', 10.8)
    .attr('fill', '#000')
    .text(title);

  // unit label
  g.append('text')
    .attr('transform', 'translate(-41,' + (attrs.plotHeight / 2) + ') rotate(-90)')
    .attr('text-anchor', 'middle')
    .attr('font-family', attrs.unitFont)
    .attr('font-size', 8.5)
    .attr('fill', '#000')
    .text(panelUnits[i]);

  // plot frame
  g.append('rect')
    .attr('width', attrs.plotWidth)
    .attr('height', attrs.plotHeight)
    .attr('fill', 'none')
    .attr('stroke', attrs.axisColor)
    .attr('stroke-width', 1);

  var yAxis = g.append('g')
    .call(d3.axisLeft(y).tickValues(ticks).tickFormat(fmt).tickSize(4).tickSizeOuter(0));
  yAxis.select('.domain').attr('stroke', attrs.axisColor);
  yAxis.selectAll('.tick line').attr('stroke', attrs.axisColor);
  yAxis.selectAll('.tick text')
    .attr('x', -6)
    .attr('font-family', attrs.tickFont)
    .attr('font-size', 9.5)
    .attr('fill', '#000');

  // zero line with category tick marks
  g.append('line')
    .attr('x1', 0)
    .attr('x2', attrs.plotWidth)
    .attr('y1', y(0))
    .attr('y2', y(0))
    .attr('stroke', attrs.zeroColor)
    .attr('stroke-width', 2);

  g.selectAll('.cat-tick')
    .data(xTickValues)
    .enter().append('line')
    .attr('class', 'cat-tick')
    .attr('x1', function (d) { return x(d) - x.step() / 2; })
    .attr('x2', function (d) { return x(d) - x.step() / 2; })
    .attr('y1', y(0))
    .attr('y2', y(0) + 4)
    .attr('stroke', attrs.zeroColor);

  // x tick labels below the frame
  g.selectAll('.x-label')
    .data(xTickValues)
    .enter().append('text')
    .attr('class', 'x-label')
    .attr('x', function (d) { return x(d); })
    .attr('y', attrs.plotHeight + 17)
    .attr('text-anchor', 'middle')
    .attr('font-family', attrs.tickFont)
    .attr('font-size', 9.5)
    .attr('fill', '#000')
    .text(function (d) { return d; });

  var line = d3.line()
    .x(function (d, t) { return x(periods[t]); })
    .y(function (d) { return y(d); });

  seriesStyles.forEach(function (s) {
    var values = s.data[i];
    if (!values) return;
    g.append('path')
      .datum(values)
      .attr('d', line)
      .attr('fill', 'none')
      .attr('stroke', s.color)
      .attr('stroke-width', s.width)
      .attr('stroke-dasharray', s.dash)
      .attr('stroke-linejoin', 'round');
  });
});
</script>
</body>
</html>
